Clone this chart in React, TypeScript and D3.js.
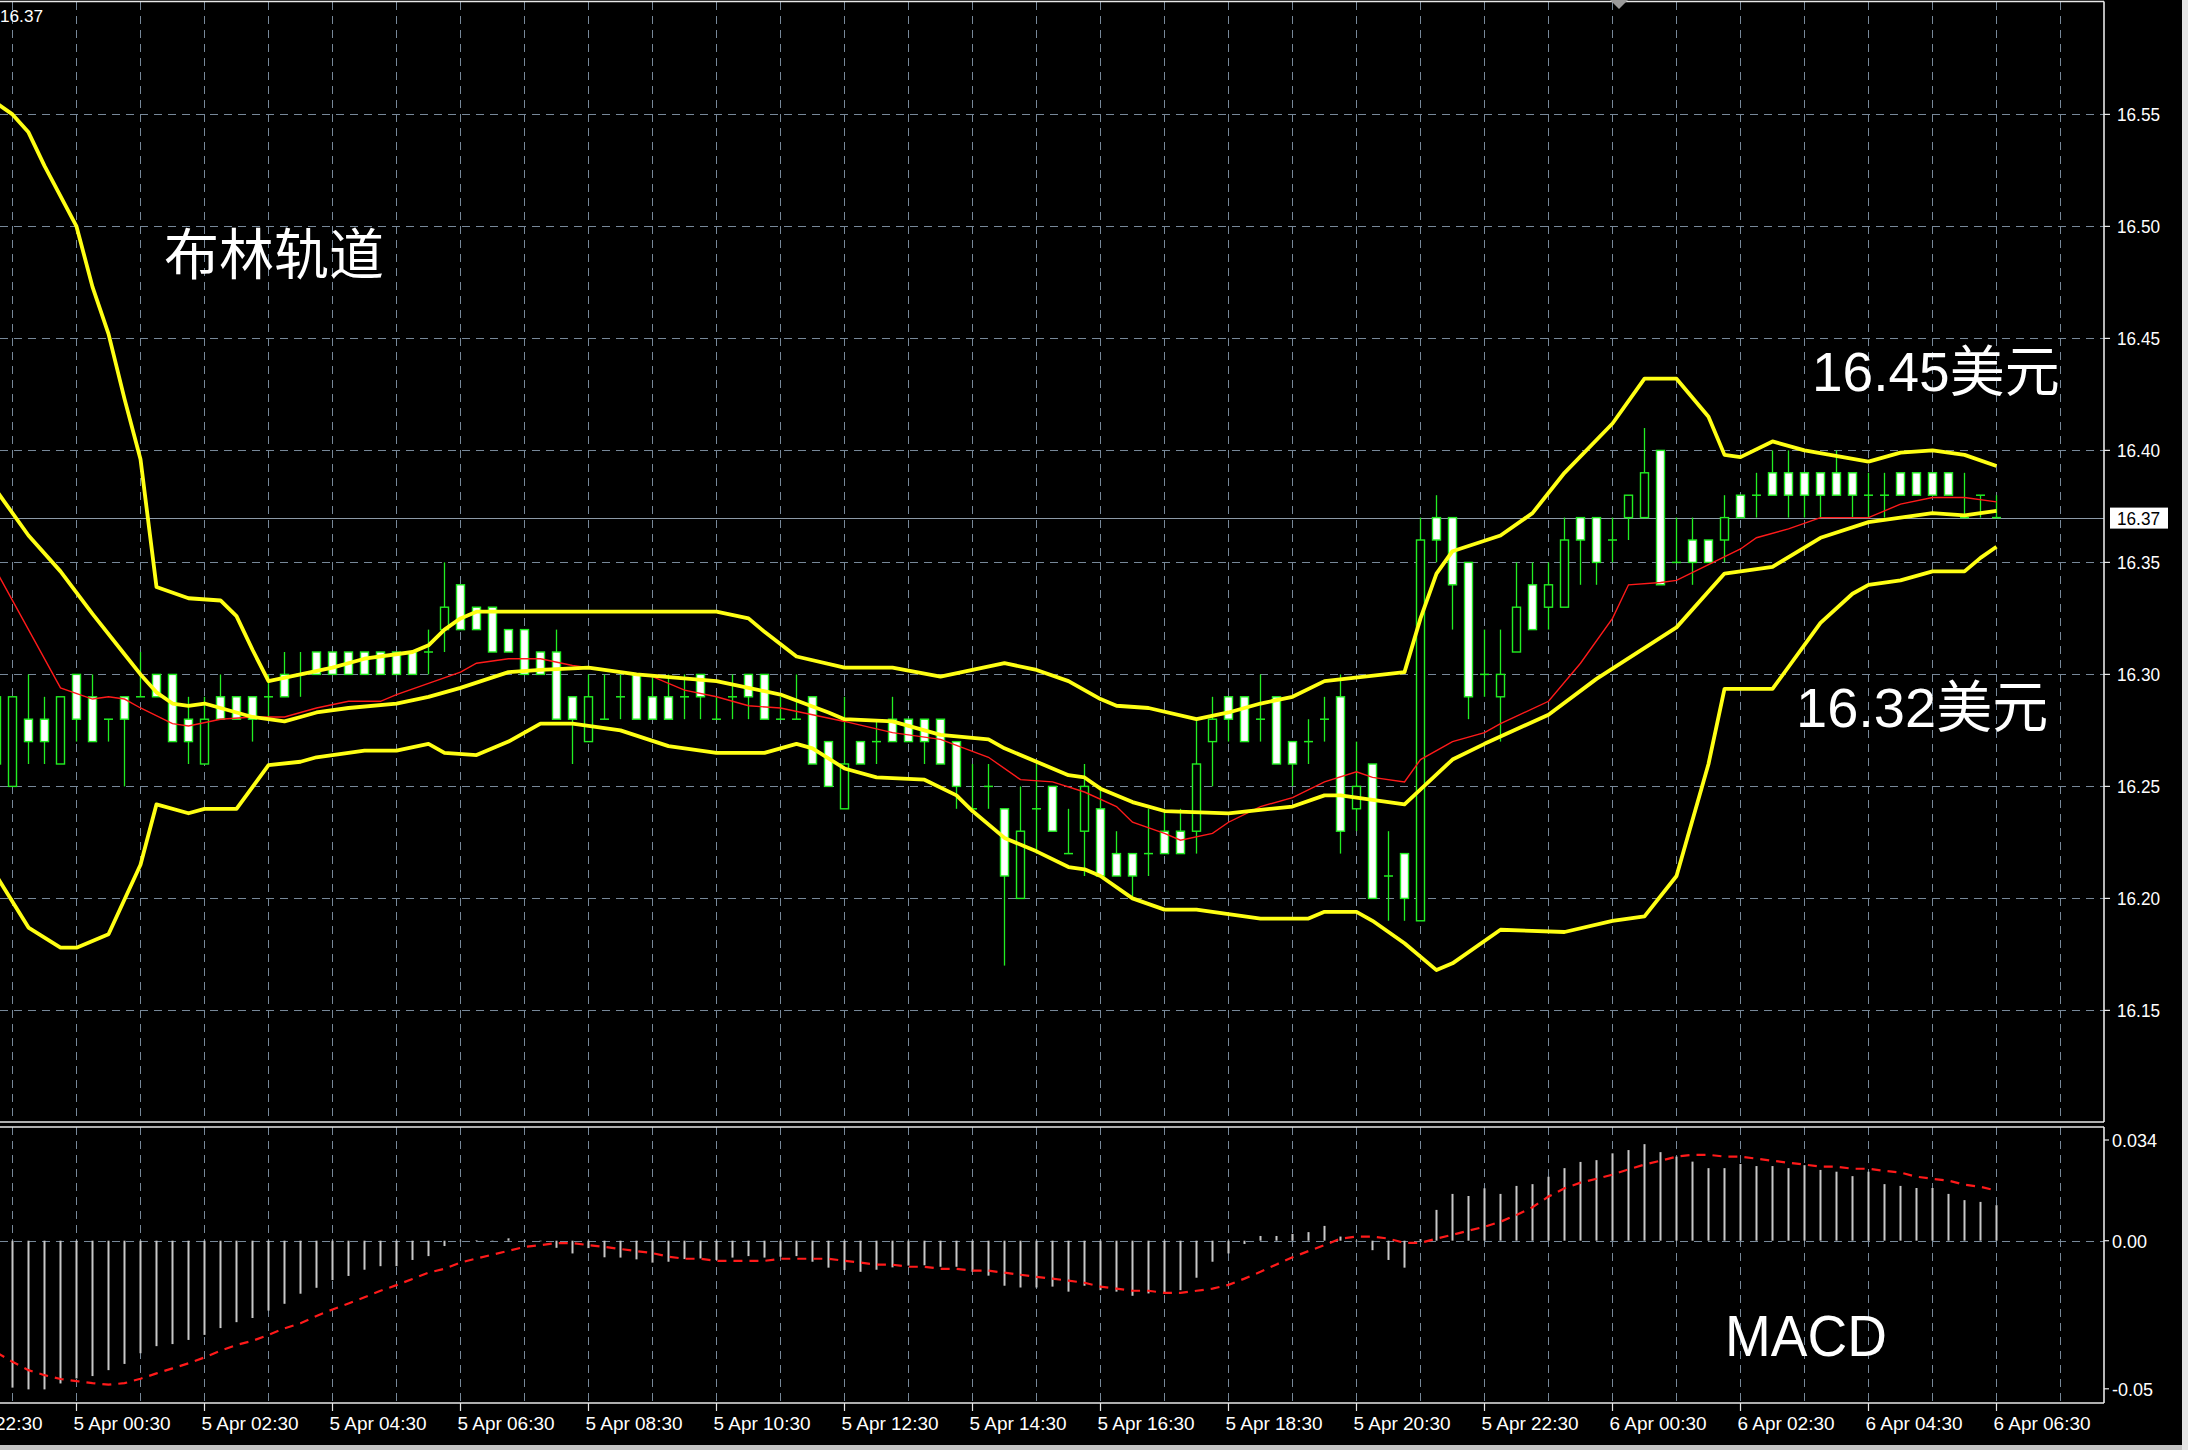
import React from "react"
import * as d3 from "d3"

// bars run from index -1 (4 Apr 23:15) to 124 (6 Apr 06:30), M15
const firstBar = -1

const opens = [
  16.29, 16.25, 16.28, 16.28, 16.26, 16.3, 16.29, 16.28, 16.29, 16.29,
  16.3, 16.3, 16.28, 16.26, 16.29, 16.29, 16.29, 16.29, 16.3, 16.3,
  16.31, 16.31, 16.31, 16.31, 16.31, 16.31, 16.31, 16.31, 16.32, 16.34,
  16.33, 16.33, 16.32, 16.32, 16.31, 16.31, 16.29, 16.27, 16.28, 16.29,
  16.3, 16.29, 16.29, 16.29, 16.3, 16.28, 16.29, 16.3, 16.3, 16.28,
  16.28, 16.29, 16.27, 16.24, 16.27, 16.27, 16.28, 16.28, 16.28, 16.28,
  16.27, 16.24, 16.25, 16.24, 16.2, 16.24, 16.25, 16.22, 16.23, 16.24,
  16.22, 16.22, 16.22, 16.23, 16.23, 16.23, 16.27, 16.29, 16.29, 16.28,
  16.29, 16.27, 16.27, 16.28, 16.29, 16.24, 16.26, 16.21, 16.22, 16.19,
  16.37, 16.37, 16.35, 16.3, 16.29, 16.31, 16.34, 16.33, 16.33, 16.37,
  16.37, 16.36, 16.37, 16.37, 16.4, 16.35, 16.36, 16.36, 16.36, 16.38,
  16.38, 16.39, 16.39, 16.39, 16.39, 16.39, 16.39, 16.38, 16.38, 16.39,
  16.39, 16.39, 16.39, 16.37, 16.38, 16.37,
]
const highs = [
  16.29, 16.29, 16.3, 16.29, 16.29, 16.3, 16.3, 16.28, 16.29, 16.31,
  16.3, 16.3, 16.29, 16.29, 16.3, 16.29, 16.29, 16.3, 16.31, 16.31,
  16.31, 16.31, 16.31, 16.31, 16.31, 16.31, 16.31, 16.32, 16.35, 16.34,
  16.33, 16.33, 16.32, 16.32, 16.31, 16.32, 16.29, 16.3, 16.3, 16.3,
  16.3, 16.3, 16.3, 16.3, 16.3, 16.29, 16.3, 16.3, 16.3, 16.29,
  16.3, 16.29, 16.27, 16.29, 16.27, 16.28, 16.29, 16.28, 16.28, 16.28,
  16.27, 16.26, 16.26, 16.24, 16.25, 16.26, 16.25, 16.24, 16.26, 16.25,
  16.23, 16.22, 16.24, 16.24, 16.24, 16.28, 16.29, 16.29, 16.29, 16.3,
  16.29, 16.27, 16.28, 16.29, 16.3, 16.27, 16.26, 16.23, 16.22, 16.37,
  16.38, 16.37, 16.35, 16.32, 16.32, 16.35, 16.35, 16.35, 16.37, 16.37,
  16.37, 16.37, 16.38, 16.41, 16.4, 16.37, 16.37, 16.36, 16.38, 16.38,
  16.39, 16.4, 16.4, 16.39, 16.39, 16.4, 16.39, 16.39, 16.39, 16.39,
  16.39, 16.39, 16.39, 16.39, 16.38, 16.38,
]
const lows = [
  16.25, 16.25, 16.26, 16.26, 16.26, 16.27, 16.27, 16.27, 16.25, 16.29,
  16.29, 16.27, 16.26, 16.26, 16.28, 16.28, 16.27, 16.28, 16.29, 16.29,
  16.3, 16.3, 16.3, 16.3, 16.3, 16.3, 16.3, 16.3, 16.31, 16.32,
  16.32, 16.31, 16.31, 16.3, 16.3, 16.28, 16.26, 16.27, 16.28, 16.28,
  16.28, 16.28, 16.28, 16.28, 16.28, 16.28, 16.28, 16.28, 16.28, 16.28,
  16.28, 16.26, 16.25, 16.24, 16.26, 16.26, 16.27, 16.27, 16.26, 16.26,
  16.24, 16.24, 16.24, 16.17, 16.2, 16.22, 16.23, 16.22, 16.21, 16.21,
  16.21, 16.2, 16.21, 16.22, 16.22, 16.22, 16.25, 16.27, 16.27, 16.27,
  16.26, 16.25, 16.26, 16.27, 16.22, 16.23, 16.2, 16.19, 16.19, 16.19,
  16.35, 16.32, 16.28, 16.29, 16.27, 16.31, 16.32, 16.32, 16.33, 16.34,
  16.34, 16.35, 16.36, 16.37, 16.34, 16.35, 16.34, 16.35, 16.35, 16.37,
  16.37, 16.38, 16.37, 16.37, 16.37, 16.38, 16.37, 16.37, 16.37, 16.38,
  16.38, 16.38, 16.38, 16.37, 16.37, 16.37,
]
const closes = [
  16.26, 16.29, 16.27, 16.27, 16.29, 16.28, 16.27, 16.28, 16.28, 16.29,
  16.29, 16.27, 16.27, 16.28, 16.28, 16.28, 16.28, 16.29, 16.29, 16.3,
  16.3, 16.3, 16.3, 16.3, 16.3, 16.3, 16.3, 16.31, 16.33, 16.32,
  16.32, 16.31, 16.31, 16.3, 16.3, 16.28, 16.28, 16.29, 16.28, 16.29,
  16.28, 16.28, 16.28, 16.29, 16.29, 16.28, 16.29, 16.29, 16.28, 16.28,
  16.28, 16.26, 16.25, 16.26, 16.26, 16.27, 16.27, 16.27, 16.27, 16.26,
  16.25, 16.24, 16.25, 16.21, 16.23, 16.24, 16.23, 16.22, 16.25, 16.21,
  16.21, 16.21, 16.22, 16.22, 16.22, 16.26, 16.28, 16.28, 16.27, 16.28,
  16.26, 16.26, 16.27, 16.28, 16.23, 16.25, 16.2, 16.21, 16.2, 16.36,
  16.36, 16.34, 16.29, 16.3, 16.3, 16.33, 16.32, 16.34, 16.36, 16.36,
  16.35, 16.36, 16.38, 16.39, 16.34, 16.35, 16.35, 16.35, 16.37, 16.37,
  16.38, 16.38, 16.38, 16.38, 16.38, 16.38, 16.38, 16.38, 16.38, 16.38,
  16.38, 16.38, 16.38, 16.37, 16.38, 16.37,
]

// bollinger bands and red moving average: [bar index, price]
const upperBand = [
  [-1, 16.555], [0, 16.55], [1, 16.542], [2, 16.527], [4, 16.5], [5, 16.473], [6, 16.452],
  [7, 16.423], [8, 16.396], [9, 16.339], [11, 16.334], [13, 16.333], [14, 16.326], [15, 16.311],
  [16, 16.297], [18, 16.3], [20, 16.303], [22, 16.307], [25, 16.31], [26, 16.313], [27, 16.32],
  [28, 16.325], [29, 16.328], [44, 16.328], [46, 16.325], [47, 16.319], [49, 16.308], [52, 16.303],
  [55, 16.303], [58, 16.299], [60, 16.302], [62, 16.305], [64, 16.302], [66, 16.297], [68, 16.289],
  [69, 16.286], [71, 16.285], [74, 16.28], [76, 16.283], [78, 16.287], [80, 16.29], [82, 16.297],
  [87, 16.301], [88, 16.325], [89, 16.345], [90, 16.355], [93, 16.362], [95, 16.372], [97, 16.39],
  [100, 16.412], [102, 16.432], [104, 16.432], [106, 16.415], [107, 16.398], [108, 16.397],
  [110, 16.404], [112, 16.4], [116, 16.395], [118, 16.399], [120, 16.4], [122, 16.398], [124, 16.393],
]
const middleBand = [
  [-1, 16.382], [1, 16.362], [3, 16.346], [5, 16.327], [7, 16.309], [8, 16.3], [9, 16.292],
  [10, 16.287], [11, 16.286], [12, 16.287], [13, 16.285], [14, 16.283], [15, 16.281], [17, 16.279],
  [18, 16.281], [19, 16.283], [21, 16.285], [24, 16.287], [26, 16.29], [28, 16.294], [31, 16.301],
  [33, 16.302], [36, 16.303], [39, 16.3], [44, 16.297], [46, 16.294], [48, 16.291], [51, 16.283],
  [52, 16.28], [55, 16.279], [56, 16.277], [58, 16.273], [61, 16.271], [62, 16.267], [64, 16.261],
  [66, 16.255], [67, 16.254], [68, 16.249], [70, 16.243], [72, 16.239], [76, 16.238], [78, 16.2395],
  [80, 16.241], [82, 16.246], [83, 16.246], [85, 16.244], [87, 16.242], [90, 16.262], [92, 16.269],
  [96, 16.282], [99, 16.298], [104, 16.321], [107, 16.345], [110, 16.348], [113, 16.361],
  [116, 16.368], [120, 16.372], [122, 16.371], [124, 16.373],
]
const lowerBand = [
  [-1, 16.21], [1, 16.187], [3, 16.178], [4, 16.178], [6, 16.184], [8, 16.215], [9, 16.242],
  [11, 16.238], [12, 16.24], [14, 16.24], [16, 16.2595], [18, 16.261], [19, 16.263], [22, 16.266],
  [24, 16.266], [26, 16.269], [27, 16.265], [29, 16.264], [31, 16.27], [33, 16.278], [35, 16.278],
  [38, 16.275], [41, 16.268], [44, 16.265], [47, 16.265], [49, 16.269], [50, 16.267], [52, 16.258],
  [54, 16.254], [57, 16.253], [59, 16.246], [60, 16.239], [62, 16.227], [64, 16.221], [66, 16.214],
  [67, 16.213], [68, 16.21], [70, 16.2], [72, 16.195], [74, 16.195], [76, 16.193], [78, 16.191],
  [81, 16.191], [82, 16.194], [84, 16.194], [85, 16.19], [87, 16.18], [89, 16.168], [90, 16.171],
  [93, 16.186], [97, 16.185], [100, 16.19], [102, 16.192], [104, 16.21], [105, 16.235], [106, 16.26],
  [107, 16.2935], [110, 16.2935], [113, 16.323], [115, 16.336], [116, 16.34], [118, 16.342],
  [120, 16.346], [122, 16.346], [123, 16.352], [124, 16.357],
]
const maLine = [
  [-1, 16.346], [1, 16.32], [3, 16.294], [5, 16.289], [6, 16.29], [7, 16.289], [8, 16.285],
  [10, 16.278], [11, 16.277], [13, 16.28], [15, 16.281], [17, 16.281], [19, 16.285], [21, 16.288],
  [23, 16.288], [24, 16.291], [26, 16.296], [28, 16.301], [29, 16.305], [31, 16.307], [33, 16.307],
  [35, 16.304], [36, 16.303], [40, 16.299], [42, 16.293], [44, 16.29], [46, 16.286], [48, 16.285],
  [52, 16.279], [55, 16.274], [58, 16.271], [61, 16.263], [63, 16.253], [65, 16.252], [67, 16.2475],
  [69, 16.241], [70, 16.234], [72, 16.229], [73, 16.226], [75, 16.229], [76, 16.234], [78, 16.241],
  [80, 16.245], [82, 16.252], [84, 16.2565], [85, 16.254], [87, 16.252], [88, 16.262], [90, 16.27],
  [92, 16.274], [93, 16.278], [96, 16.288], [98, 16.305], [100, 16.325], [101, 16.34], [103, 16.341],
  [104, 16.342], [106, 16.349], [108, 16.356], [109, 16.361], [111, 16.365], [113, 16.37],
  [116, 16.37], [118, 16.376], [120, 16.379], [122, 16.379], [124, 16.377],
]

const macdHist = [
  -0.049, -0.0496, -0.0502, -0.0502, -0.0482, -0.0465, -0.0457, -0.0437, -0.0416, -0.038,
  -0.0356, -0.0349, -0.0335, -0.0318, -0.0295, -0.0275, -0.0261, -0.0236, -0.0213, -0.0179,
  -0.0159, -0.0133, -0.0119, -0.0098, -0.0086, -0.0086, -0.0065, -0.0052, -0.0018, -0.0002,
  0.0002, 0.0001, 0.0008, 0.0002, -0.0002, -0.0024, -0.0043, -0.0025, -0.0056, -0.0057,
  -0.0063, -0.0074, -0.0071, -0.0062, -0.006, -0.0065, -0.0057, -0.0052, -0.0057, -0.0054,
  -0.0052, -0.0071, -0.0091, -0.0099, -0.0105, -0.0098, -0.009, -0.0084, -0.0083, -0.0088,
  -0.0088, -0.0105, -0.0118, -0.0152, -0.0158, -0.0158, -0.0155, -0.0172, -0.0152, -0.0167,
  -0.0172, -0.0186, -0.0178, -0.0178, -0.0167, -0.0125, -0.0071, -0.0043, -0.0011, 0.0016,
  0.0016, 0.0023, 0.0029, 0.005, 0.0014, -0.0003, -0.0032, -0.0065, -0.0091, 0.0005,
  0.0104, 0.0158, 0.0151, 0.0177, 0.0158, 0.0185, 0.0191, 0.0216, 0.0245, 0.0266,
  0.0272, 0.0295, 0.0306, 0.0326, 0.0299, 0.0284, 0.0267, 0.0245, 0.0245, 0.0259,
  0.0252, 0.0252, 0.0245, 0.0255, 0.0239, 0.0233, 0.0218, 0.0233, 0.0191, 0.0185,
  0.0178, 0.0178, 0.0158, 0.0137, 0.0131, 0.012,
]
const macdSignal = [
  -0.0377, -0.0409, -0.0437, -0.0454, -0.0467, -0.0474, -0.0481, -0.0486, -0.0481, -0.0466,
  -0.0448, -0.0431, -0.0414, -0.0394, -0.0371, -0.0352, -0.0338, -0.0318, -0.0296, -0.0279,
  -0.0254, -0.0232, -0.0212, -0.0191, -0.0169, -0.015, -0.0129, -0.0108, -0.0095, -0.0074,
  -0.006, -0.0047, -0.0034, -0.0021, -0.0015, -0.0008, -0.0008, -0.0015, -0.0021, -0.0028,
  -0.0035, -0.0042, -0.0054, -0.0061, -0.0061, -0.0068, -0.0068, -0.0068, -0.0068, -0.0061,
  -0.0061, -0.0061, -0.0061, -0.0068, -0.0074, -0.0081, -0.0081, -0.0088, -0.0088, -0.0095,
  -0.0095, -0.0101, -0.0101, -0.0108, -0.0115, -0.0122, -0.0128, -0.0135, -0.0142, -0.0155,
  -0.0162, -0.0169, -0.0169, -0.0176, -0.0176, -0.0169, -0.0162, -0.0149, -0.0128, -0.0105,
  -0.008, -0.0056, -0.0035, -0.0015, 0.0007, 0.0014, 0.0014, 0.0007, -0.0007, -0.0007,
  0.0007, 0.002, 0.0034, 0.0047, 0.0064, 0.0087, 0.0113, 0.0149, 0.0177, 0.0196,
  0.0209, 0.0223, 0.0241, 0.0257, 0.027, 0.0284, 0.029, 0.029, 0.0284, 0.0284,
  0.0277, 0.027, 0.0263, 0.0257, 0.025, 0.025, 0.0243, 0.0243, 0.0236, 0.023,
  0.0216, 0.0209, 0.0203, 0.0189, 0.0182, 0.0169,
]

const priceTicks = [16.55, 16.5, 16.45, 16.4, 16.35, 16.3, 16.25, 16.2, 16.15]
const macdTicks = [0.034, 0, -0.05]
const macdTickLabels = ["0.034", "0.00", "-0.05"]
const timeLabels = [
  "4 Apr 22:30", "5 Apr 00:30", "5 Apr 02:30", "5 Apr 04:30", "5 Apr 06:30", "5 Apr 08:30",
  "5 Apr 10:30", "5 Apr 12:30", "5 Apr 14:30", "5 Apr 16:30", "5 Apr 18:30", "5 Apr 20:30",
  "5 Apr 22:30", "6 Apr 00:30", "6 Apr 02:30", "6 Apr 04:30", "6 Apr 06:30",
]
const lastPrice = 16.37

const W = 2188
const H = 1450
const plotRight = 2104
const mainTop = 2
const mainBottom = 1122
const macdTop = 1127
const macdBottom = 1403

const GREEN = "#22ee22"
const YELLOW = "#ffff14"
const GRID = "#778899"
const AXIS_FONT = "'Liberation Sans', Arial, sans-serif"

export default function App() {
  const n = opens.length
  const x = d3.scaleLinear().domain([firstBar, firstBar + n - 1]).range([-3.5, -3.5 + 16 * (n - 1)])
  const yP = d3.scaleLinear().domain([16.15, 16.55]).range([1010.4, 114.4])
  const yM = d3.scaleLinear().domain([-0.05, 0.034]).range([1388.8, 1140])

  const bandLine = d3
    .line<number[]>()
    .x((d) => x(d[0]))
    .y((d) => yP(d[1]))
  const signalLine = d3
    .line<number>()
    .x((_, i) => x(firstBar + i))
    .y((d) => yM(d))

  const gridX = d3.range(0, 129, 4).map((i) => x(i))
  const timeX = timeLabels.map((_, k) => x(-4 + 8 * k))

  const candles = opens.map((o, k) => {
    const i = firstBar + k
    const c = closes[k]
    const h = highs[k]
    const l = lows[k]
    const cx = x(i)
    if (Math.abs(o - c) < 1e-9) {
      return (
        <g key={k}>
          <line x1={cx} x2={cx} y1={yP(h)} y2={yP(l)} stroke={GREEN} strokeWidth={1.3} />
          <line x1={cx - 4.5} x2={cx + 4.5} y1={yP(o)} y2={yP(o)} stroke={GREEN} strokeWidth={1.5} />
        </g>
      )
    }
    const top = Math.max(o, c)
    const bot = Math.min(o, c)
    return (
      <g key={k}>
        <line x1={cx} x2={cx} y1={yP(h)} y2={yP(top)} stroke={GREEN} strokeWidth={1.3} />
        <line x1={cx} x2={cx} y1={yP(bot)} y2={yP(l)} stroke={GREEN} strokeWidth={1.3} />
        <rect
          x={cx - 4}
          y={yP(top)}
          width={8}
          height={yP(bot) - yP(top)}
          fill={c < o ? "#ffffff" : "#000000"}
          stroke={GREEN}
          strokeWidth={1.4}
        />
      </g>
    )
  })

  return (
    <svg
      width={W}
      height={H}
      style={{ position: "absolute", left: 0, top: 0, display: "block" }}
    >
      <defs>
        <clipPath id="mainClip">
          <rect x={0} y={mainTop} width={plotRight} height={mainBottom - mainTop} />
        </clipPath>
        <clipPath id="macdClip">
          <rect x={0} y={macdTop} width={plotRight} height={macdBottom - macdTop} />
        </clipPath>
      </defs>
      <rect x={0} y={0} width={W} height={H} fill="#000" />
      <rect x={2182} y={0} width={6} height={H} fill="#e4e4e4" />
      <rect x={0} y={1445} width={2182} height={5} fill="#c4c4c4" />

      {/* grid */}
      <g stroke={GRID} strokeWidth={1} strokeDasharray="8 6" fill="none">
        {priceTicks.map((p) => (
          <line key={p} x1={0} x2={plotRight} y1={Math.round(yP(p)) + 0.5} y2={Math.round(yP(p)) + 0.5} />
        ))}
        {gridX.map((gx) => (
          <line key={"m" + gx} x1={gx} x2={gx} y1={mainTop} y2={mainBottom} />
        ))}
        {gridX.map((gx) => (
          <line key={"d" + gx} x1={gx} x2={gx} y1={macdTop} y2={macdBottom} />
        ))}
        <line x1={0} x2={plotRight} y1={Math.round(yM(0)) + 0.5} y2={Math.round(yM(0)) + 0.5} />
      </g>

      {/* last price line */}
      <line
        x1={0}
        x2={plotRight}
        y1={Math.round(yP(lastPrice)) + 0.5}
        y2={Math.round(yP(lastPrice)) + 0.5}
        stroke="#8c9aa8"
        strokeWidth={1}
      />

      <g clipPath="url(#mainClip)">
        {candles}
        <path d={bandLine(maLine) || ""} fill="none" stroke="#ff1a1a" strokeWidth={1.4} />
        <path d={bandLine(upperBand) || ""} fill="none" stroke={YELLOW} strokeWidth={3.8} strokeLinejoin="round" />
        <path d={bandLine(middleBand) || ""} fill="none" stroke={YELLOW} strokeWidth={3.8} strokeLinejoin="round" />
        <path d={bandLine(lowerBand) || ""} fill="none" stroke={YELLOW} strokeWidth={3.8} strokeLinejoin="round" />
      </g>

      {/* MACD */}
      <g clipPath="url(#macdClip)">
        {macdHist.map((v, k) => (
          <line
            key={k}
            x1={x(firstBar + k)}
            x2={x(firstBar + k)}
            y1={yM(0)}
            y2={yM(v)}
            stroke="#c8c8c8"
            strokeWidth={2}
          />
        ))}
        <path
          d={signalLine(macdSignal) || ""}
          fill="none"
          stroke="#ff1a1a"
          strokeWidth={2.2}
          strokeDasharray="9 7"
        />
      </g>

      {/* frames */}
      <g stroke="#e8e8e8" strokeWidth={1.6} fill="none">
        <line x1={0} x2={plotRight} y1={1.5} y2={1.5} />
        <line x1={plotRight} x2={plotRight} y1={1.5} y2={mainBottom} />
        <line x1={0} x2={plotRight} y1={mainBottom} y2={mainBottom} />
        <line x1={0} x2={plotRight} y1={macdTop} y2={macdTop} />
        <line x1={plotRight} x2={plotRight} y1={macdTop} y2={macdBottom} />
        <line x1={0} x2={plotRight} y1={macdBottom} y2={macdBottom} />
      </g>

      {/* price axis */}
      <g fill="#ffffff" fontFamily={AXIS_FONT} fontSize={18}>
        {priceTicks.map((p) => (
          <g key={p}>
            <line x1={plotRight} x2={plotRight + 6} y1={yP(p)} y2={yP(p)} stroke="#e8e8e8" strokeWidth={1.2} />
            <text x={2117} y={yP(p) + 7} textLength={43} lengthAdjust="spacingAndGlyphs">
              {p.toFixed(2)}
            </text>
          </g>
        ))}
        {macdTicks.map((v, k) => (
          <g key={v}>
            <line x1={plotRight} x2={plotRight + 5} y1={yM(v)} y2={yM(v)} stroke="#e8e8e8" strokeWidth={1.2} />
            <text x={2112} y={yM(v) + 7}>
              {macdTickLabels[k]}
            </text>
          </g>
        ))}
      </g>

      {/* last price box */}
      <rect x={2110} y={yP(lastPrice) - 10} width={58} height={21} fill="#ffffff" />
      <text
        x={2117}
        y={yP(lastPrice) + 7}
        fill="#000000"
        fontFamily={AXIS_FONT}
        fontSize={18}
        textLength={43}
        lengthAdjust="spacingAndGlyphs"
      >
        {lastPrice.toFixed(2)}
      </text>

      {/* time axis, the first label runs off the left edge as in the terminal */}
      <g fill="#ffffff" fontFamily={AXIS_FONT} fontSize={18}>
        {timeLabels.map((t, k) => (
          <g key={t}>
            <line x1={timeX[k]} x2={timeX[k]} y1={macdBottom} y2={macdBottom + 8} stroke="#e8e8e8" strokeWidth={1.2} />
            <text x={timeX[k] - 3} y={1430} textLength={97} lengthAdjust="spacingAndGlyphs">
              {t}
            </text>
          </g>
        ))}
      </g>

      {/* top-left price and chart shift marker */}
      <text x={0} y={22} fill="#ffffff" fontFamily={AXIS_FONT} fontSize={16} textLength={43} lengthAdjust="spacingAndGlyphs">
        16.37
      </text>
      <polygon points="1610,0 1628,0 1619,9" fill="#9a9a9a" />

      {/* annotations */}
      <text x={164} y={274} fill="#ffffff" fontFamily="'Noto Sans CJK SC', sans-serif" fontSize={55}>
        布林轨道
      </text>
      <text x={1812} y={391} fill="#ffffff" fontFamily={AXIS_FONT + ", 'Noto Sans CJK SC'"} fontSize={55}>
        16.45美元
      </text>
      <text x={1796} y={727} fill="#ffffff" fontFamily={AXIS_FONT + ", 'Noto Sans CJK SC'"} fontSize={56}>
        16.32美元
      </text>
      <text
        x={1725}
        y={1356}
        fill="#ffffff"
        fontFamily={AXIS_FONT}
        fontSize={58}
        textLength={162}
        lengthAdjust="spacingAndGlyphs"
      >
        MACD
      </text>
    </svg>
  )
}
